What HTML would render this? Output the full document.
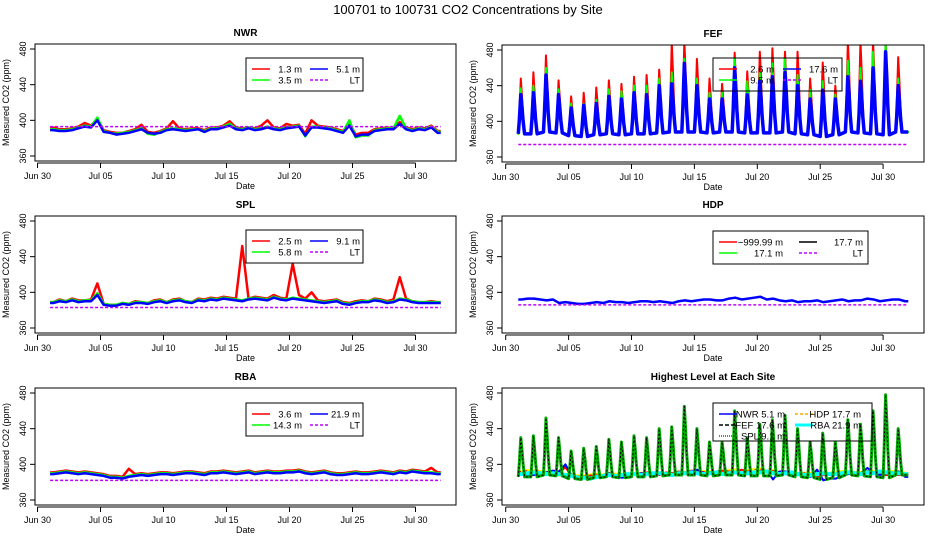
<!DOCTYPE html>
<html><head><meta charset="utf-8"><style>
body{margin:0;background:#fff}
svg{display:block;font-family:"Liberation Sans",sans-serif}
</style></head><body>
<svg id="c" width="936" height="540" viewBox="0 0 936 540">
<text x="468" y="14" text-anchor="middle" font-size="13">100701  to  100731 CO2 Concentrations by Site</text>
</svg>
<script>
// ---- data (half-daily values, Jul 1 .. Jul 31) ----
const dateTicks=["Jun 30","Jul 05","Jul 10","Jul 15","Jul 20","Jul 25","Jul 30"];
const dateTickDays=[0,5,10,15,20,25,30];
const yTicks=[360,400,440,480];
const nwrB=[389,388,388,389,391,393,392,400,387,386,384,385,386,388,390,386,385,386,389,390,389,388,389,390,387,390,390,392,394,390,389,391,389,390,392,390,389,391,392,393,383,392,392,391,390,388,386,394,382,384,384,388,389,390,390,396,390,388,390,389,392,386];
const nwrG=[390,389,389,390,392,394,393,403,388,386,385,386,387,389,391,385,384,387,390,391,390,389,390,390,388,391,391,393,396,391,390,392,390,391,393,391,390,392,393,394,382,393,393,392,391,389,387,400,381,383,383,389,390,391,391,405,391,389,391,390,393,387];
const nwrR=[392,390,390,391,393,397,394,402,389,387,386,386,388,390,395,387,386,388,391,399,391,390,391,391,389,392,392,394,399,392,391,392,391,394,400,392,391,396,394,395,385,400,394,393,392,390,388,397,384,386,386,390,391,392,391,398,392,390,392,391,394,388];
const nwrLT=393;
const fefLow=[386,386,388,387,384,383,385,386,385,386,386,387,388,388,388,387,388,388,387,387,387,388,386,385,383,385,388,387,386,385,388];
const fefBpk=[430,432,452,430,415,418,420,428,425,432,430,440,442,465,440,425,425,460,430,445,450,455,440,425,435,425,450,445,460,478,440];
const fefGpk=[437,440,460,436,420,420,424,436,434,440,440,448,455,470,448,432,432,470,445,455,465,470,452,435,445,430,468,460,478,490,448];
const fefRpk=[448,455,474,446,428,432,438,446,442,450,452,458,488,490,470,448,442,477,456,478,482,478,478,448,466,440,490,490,490,490,472];
const fefLT=374;
const splB=[388,390,389,391,389,390,390,397,386,385,385,387,386,388,388,387,389,390,388,390,391,389,388,391,390,392,391,393,392,391,390,392,393,392,391,394,392,391,393,392,391,390,389,388,389,390,387,386,388,389,389,391,390,388,389,392,391,389,388,388,388,388];
const splG=[389,391,390,392,390,391,391,399,387,386,386,388,387,389,389,388,390,391,389,391,392,390,389,392,391,393,392,394,393,392,391,393,394,393,392,395,393,392,394,393,392,391,390,389,390,391,388,387,389,390,390,392,391,389,390,393,392,390,389,389,389,389];
const splR=[389,392,390,393,391,391,392,410,387,386,386,388,387,390,389,388,391,392,389,392,393,390,389,393,392,394,393,395,394,393,452,393,395,394,393,397,394,393,432,397,393,400,391,390,391,392,389,388,390,391,390,393,392,390,392,417,393,390,389,389,390,389];
const splLT=383;
const hdpB=[392,393,393,392,391,392,388,389,388,387,387,388,389,388,390,389,389,388,389,390,390,389,390,389,388,390,391,390,391,392,392,391,391,393,394,392,393,394,395,392,393,391,390,391,389,390,390,391,389,390,391,392,390,391,391,393,392,390,391,392,392,390];
const hdpLT=386;
const rbaB=[389,390,391,390,389,390,389,388,387,385,385,384,386,387,388,387,388,389,389,388,389,390,390,389,388,390,390,391,390,389,390,391,389,390,391,390,390,391,391,392,390,389,390,391,389,388,388,389,390,389,389,390,391,390,389,391,390,392,391,390,390,389];
const rbaG=[390,391,392,391,390,391,390,389,388,386,386,385,387,388,389,388,389,390,390,389,390,391,391,390,389,391,391,392,391,390,391,392,390,391,392,391,391,392,392,393,391,390,391,392,390,389,389,390,391,390,390,391,392,391,390,392,391,393,392,391,391,390];
const rbaR=[391,392,393,392,391,392,391,390,389,387,387,386,395,389,390,389,390,391,391,390,391,392,392,391,390,392,392,393,392,391,392,393,391,392,393,392,392,393,393,394,392,391,392,393,391,390,390,391,392,391,391,392,393,392,391,393,392,394,393,392,396,391];
const rbaLT=382;

const NS="http://www.w3.org/2000/svg";
const svg=document.getElementById('c');
function mk(tag,attrs,parent){const e=document.createElementNS(NS,tag);for(const k in attrs)e.setAttribute(k,attrs[k]);(parent||svg).appendChild(e);return e;}

let clipN=0;
function panel(name,title,left,top){
  const P={x0:left?35:502,x1:left?456:924,top:top,bot:top+117};
  P.xd0=left?37.5:505.7; P.ppd=left?12.6:12.58;
  P.X=d=>P.xd0+d*P.ppd;
  P.Y=v=>P.top+5+(480-v)*(P.bot-P.top-10)/120;
  const g=mk('g',{});
  
  
  const t=mk('text',{x:(P.x0+P.x1)/2,y:top-8,'text-anchor':'middle','font-size':10,'font-weight':'bold'},g);
  t.textContent=title;
  
  
  const id='cl'+(clipN++);
  const cp=mk('clipPath',{id:id},g);mk('rect',{x:P.x0,y:P.top,width:P.x1-P.x0,height:P.bot-P.top},cp);
  P.plot=mk('g',{'clip-path':'url(#'+id+')'},g);
  
  
  P.g=g;
  const ya=mk('g',{},g);
  
  
  mk('line',{x1:P.x0,x2:P.x0,y1:P.Y(360),y2:P.Y(480),stroke:'#000'},ya);
  yTicks.forEach(v=>{
    mk('line',{x1:P.x0-5,x2:P.x0,y1:P.Y(v),y2:P.Y(v),stroke:'#000'},ya);
    const l=mk('text',{x:P.x0-9,y:P.Y(v),'font-size':9,'text-anchor':'middle',transform:`rotate(-90 ${P.x0-9} ${P.Y(v)})`},ya);
    l.textContent=v;
  });
  const yt=mk('text',{x:P.x0-26,y:(P.top+P.bot)/2,'font-size':9,'text-anchor':'middle',transform:`rotate(-90 ${P.x0-26} ${(P.top+P.bot)/2})`},g);
  yt.textContent='Measured CO2 (ppm)';
  
  
  const xa=mk('g',{},g);
  
  
  mk('line',{x1:P.X(0),x2:P.X(30),y1:P.bot+2,y2:P.bot+2,stroke:'#000'},xa);
  dateTickDays.forEach((d,i)=>{
    mk('line',{x1:P.X(d),x2:P.X(d),y1:P.bot+2,y2:P.bot+7,stroke:'#000'},xa);
    const l=mk('text',{x:P.X(d),y:P.bot+18,'font-size':9,'text-anchor':'middle'},xa);
    l.textContent=dateTicks[i];
  });
  const xt=mk('text',{x:(P.x0+P.x1)/2,y:P.bot+28,'font-size':9,'text-anchor':'middle'},g);
  xt.textContent='Date';
  
  
  return P;
}
function box(P){mk('rect',{x:P.x0,y:P.top,width:P.x1-P.x0,height:P.bot-P.top,fill:'none',stroke:'#000'},P.g);}
function halfDaily(P,arr,color,w,name,dash){
  const pts=arr.map((v,i)=>[P.X(1+i*0.5+0.25),P.Y(v)]);
  pts.unshift([P.X(1),P.Y(arr[0])]);pts.push([P.X(32),P.Y(arr[arr.length-1])]);
  const p=mk('polyline',{points:pts.map(p=>p.join(',')).join(' '),fill:'none',stroke:color,'stroke-width':w,'stroke-linejoin':'round'},P.plot);
  if(dash)p.setAttribute('stroke-dasharray',dash);
  
  
}
function dPts(P,low,pk){
  const pts=[];
  pk.forEach((v,i)=>{const d=1+i;const m=(v+2*low[i])/3;
    pts.push([P.X(d),P.Y(low[i])],[P.X(d+0.08),P.Y(m)],[P.X(d+0.2),P.Y(v)],[P.X(d+0.3),P.Y((v+m)/2)],[P.X(d+0.38),P.Y(m)],[P.X(d+0.5),P.Y(low[i])]);});
  pts.push([P.X(32),P.Y(low[low.length-1])]);
  return pts;
}
function diurnal(P,low,pk,color,w,name,dash){
  const pts=dPts(P,low,pk);
  const p=mk('polyline',{points:pts.map(p=>p.join(',')).join(' '),fill:'none',stroke:color,'stroke-width':w,'stroke-linejoin':'round'},P.plot);
  if(dash)p.setAttribute('stroke-dasharray',dash);
  
  
}
function band(P,low,pkTop,pkBot,color,name){
  const pts=dPts(P,low,pkTop).concat(dPts(P,low,pkBot).reverse());
  const p=mk('polygon',{points:pts.map(p=>p.join(',')).join(' '),fill:color,stroke:color,'stroke-width':2,'stroke-linejoin':'round'},P.plot);
  
  
}
function ltLine(P,v,name){
  const l=mk('line',{x1:P.X(1),x2:P.X(32),y1:P.Y(v),y2:P.Y(v),stroke:'#c000ff','stroke-width':1.5,'stroke-dasharray':'3,2'},P.plot);
  
  
}
function legend(P,name,x,y,w,h,items,colx,textw){
  const g=mk('g',{},P.g);
  
  
  mk('rect',{x:x,y:y,width:w,height:h,fill:'none',stroke:'#000'},g);
  items.forEach((it,i)=>{
    const cx=x+colx[it.c],cy=y+11+it.r*11;
    const e=mk('g',{},g);
    
    
    const ln=mk('line',{x1:cx,x2:cx+18,y1:cy,y2:cy,stroke:it.col,'stroke-width':it.w||1.5},e);
    if(it.dash)ln.setAttribute('stroke-dasharray',it.dash);
    const t=mk('text',{x:cx+textw,y:cy+3.5,'font-size':9.5,'text-anchor':'end'},e);
    t.textContent=it.t;
  });
}
// NWR
let P=panel('nwr','NWR',true,44);
halfDaily(P,nwrR,'#f00',2.5,'nwr-1.3m-line');
halfDaily(P,nwrG,'#0f0',2.5,'nwr-3.5m-line');
halfDaily(P,nwrB,'#00f',2.5,'nwr-5.1m-line');
ltLine(P,nwrLT,'nwr-lt-line');box(P);
legend(P,'nwr-legend',246,58,117,33,[{t:'1.3 m',col:'#f00',c:0,r:0},{t:'3.5 m',col:'#0f0',c:0,r:1},{t:'5.1 m',col:'#00f',c:1,r:0},{t:'LT',col:'#c000ff',dash:'3,2',c:1,r:1}],[6,64],50);
// FEF
P=panel('fef','FEF',false,45);
band(P,fefLow,fefRpk,fefGpk,'#f00','fef-2.6m-line');
band(P,fefLow,fefGpk,fefBpk,'#0f0','fef-9.5m-line');
diurnal(P,fefLow,fefBpk,'#00f',3.5,'fef-17.6m-line');
ltLine(P,fefLT,'fef-lt-line');box(P);
legend(P,'fef-legend',713,58,129,33,[{t:'2.6 m',col:'#f00',c:0,r:0},{t:'9.5 m',col:'#0f0',c:0,r:1},{t:'17.6 m',col:'#00f',c:1,r:0},{t:'LT',col:'#c000ff',dash:'3,2',c:1,r:1}],[6,70],55);
// SPL
P=panel('spl','SPL',true,216);
halfDaily(P,splR,'#f00',2.5,'spl-2.5m-line');
halfDaily(P,splG,'#0f0',2.5,'spl-5.8m-line');
halfDaily(P,splB,'#00f',2.5,'spl-9.1m-line');
ltLine(P,splLT,'spl-lt-line');box(P);
legend(P,'spl-legend',246,230,117,33,[{t:'2.5 m',col:'#f00',c:0,r:0},{t:'5.8 m',col:'#0f0',c:0,r:1},{t:'9.1 m',col:'#00f',c:1,r:0},{t:'LT',col:'#c000ff',dash:'3,2',c:1,r:1}],[6,64],50);
// HDP
P=panel('hdp','HDP',false,216);
halfDaily(P,hdpB,'#00f',2.5,'hdp-17.7m-line');
ltLine(P,hdpLT,'hdp-lt-line');box(P);
legend(P,'hdp-legend',713,231,155,33,[{t:'\u2212999.99 m',col:'#f00',c:0,r:0},{t:'17.1 m',col:'#0f0',c:0,r:1},{t:'17.7 m',col:'#000',c:1,r:0},{t:'LT',col:'#c000ff',dash:'3,2',c:1,r:1}],[6,86],64);
// RBA
P=panel('rba','RBA',true,388);
halfDaily(P,rbaR,'#f00',2.5,'rba-3.6m-line');
halfDaily(P,rbaG,'#0f0',2.5,'rba-14.3m-line');
halfDaily(P,rbaB,'#00f',2.5,'rba-21.9m-line');
ltLine(P,rbaLT,'rba-lt-line');box(P);
legend(P,'rba-legend',246,403,117,33,[{t:'3.6 m',col:'#f00',c:0,r:0},{t:'14.3 m',col:'#0f0',c:0,r:1},{t:'21.9 m',col:'#00f',c:1,r:0},{t:'LT',col:'#c000ff',dash:'3,2',c:1,r:1}],[6,64],50);
// Highest
P=panel('highest','Highest Level at Each Site',false,388);
halfDaily(P,hdpB,'#ff0',3,'hdp-highest-line');
halfDaily(P,hdpB,'#f00',1,'hdp-highest-dash','3,3');
halfDaily(P,splB,'#f00',2,'spl-highest-line');
halfDaily(P,nwrB,'#00f',2,'nwr-highest-line');
halfDaily(P,rbaB,'#0ff',4,'rba-highest-line');
diurnal(P,fefLow,fefBpk,'#0a0',3,'fef-highest-line');
diurnal(P,fefLow,fefBpk,'#000',1,'fef-highest-dash','2,2');
box(P);
legend(P,'highest-legend',713,403,159,38,[{t:'NWR  5.1 m',col:'#00f',c:0,r:0},{t:'FEF  17.6 m',col:'#000',dash:'4,2',c:0,r:1},{t:'SPL  9.1 m',col:'#f00',dash:'1,1',c:0,r:2},{t:'HDP  17.7 m',col:'#fa0',dash:'3,2',c:1,r:0},{t:'RBA  21.9 m',col:'#0ff',w:3,c:1,r:1}],[6,82],66);
</script>
</body></html>
